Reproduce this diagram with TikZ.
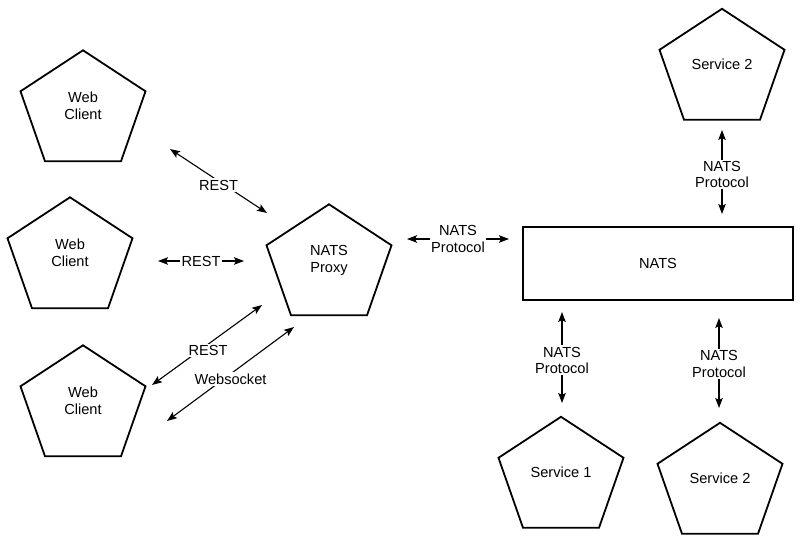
\documentclass[tikz,border=0pt]{standalone}
\usepackage{fontspec}
\setmainfont{Liberation Sans}
\usetikzlibrary{arrows.meta,calc}
\tikzset{
  pentbox/.style={minimum width=125pt, minimum height=111pt, inner sep=0pt, align=center, font=\fontsize{14.6}{17}\selectfont},
  pentline/.style={line width=1.8pt, line join=miter},
  natsbox/.style={draw, line width=1.3pt, minimum width=270pt, minimum height=73pt, inner sep=0pt, font=\fontsize{14.6}{17}\selectfont},
  arr/.style={line width=1.1pt, {Stealth[length=10pt,width=7.5pt,inset=2pt]}-{Stealth[length=10pt,width=7.5pt,inset=2pt]}},
  lbl/.style={fill=white, inner sep=1.5pt, align=center, font=\fontsize{14.6}{16.5}\selectfont}
}
\newcommand\pentshape[1]{\draw[pentline] (#1.north) -- ++(62.5,41) -- ++(-24.5,70) -- ++(-76,0) -- ++(-24.5,-70) -- cycle;}
\begin{document}
\begin{tikzpicture}[x=1pt,y=-1pt]
\useasboundingbox (0,0) rectangle (800,545);
% nodes
\node[pentbox] (wc1) at (83,106) {Web\\Client};
\node[pentbox] (wc2) at (70,253) {Web\\Client};
\node[pentbox] (wc3) at (83,401) {Web\\Client};
\node[pentbox] (proxy) at (329,260) {NATS\\Proxy};
\node[pentbox] (svc2t) at (722,64.5) {Service 2};
\node[pentbox] (svc1) at (561,472.5) {Service 1};
\node[pentbox] (svc2b) at (720,478.5) {Service 2};
\node[natsbox] (nats) at (658,263.5) {NATS};
\foreach \n in {wc1,wc2,wc3,proxy,svc2t,svc1,svc2b}{\pentshape{\n}}
% connector end points
\coordinate (a1) at (170,149);
\coordinate (a2) at (267,213);
\coordinate (b1) at (158,261);
\coordinate (b2) at (244,261);
\coordinate (c1) at (407,239);
\coordinate (c2) at (509,239);
\coordinate (d1) at (262,305);
\coordinate (d2) at (152,385);
\coordinate (e1) at (294,327);
\coordinate (e2) at (167,421);
\coordinate (f1) at (722,130);
\coordinate (f2) at (722,214);
\coordinate (g1) at (562,312);
\coordinate (g2) at (562,403);
\coordinate (h1) at (719,318);
\coordinate (h2) at (719,408);
% connectors
\draw[arr] (a1) -- (a2) node[lbl, pos=0.5, yshift=-4pt] {REST};
\draw[arr] (b1) -- (b2) node[lbl, pos=0.5] {REST};
\draw[arr] (c1) -- (c2) node[lbl, pos=0.5] {NATS\\Protocol};
\draw[arr] (d1) -- (d2) node[lbl, pos=0.49, yshift=-6pt] {REST};
\draw[arr] (e1) -- (e2) node[lbl, pos=0.5, yshift=-5pt] {Websocket};
\draw[arr] (f1) -- (f2) node[lbl, pos=0.53] {NATS\\Protocol};
\draw[arr] (g1) -- (g2) node[lbl, pos=0.53] {NATS\\Protocol};
\draw[arr] (h1) -- (h2) node[lbl, pos=0.51] {NATS\\Protocol};
\end{tikzpicture}
\end{document}
